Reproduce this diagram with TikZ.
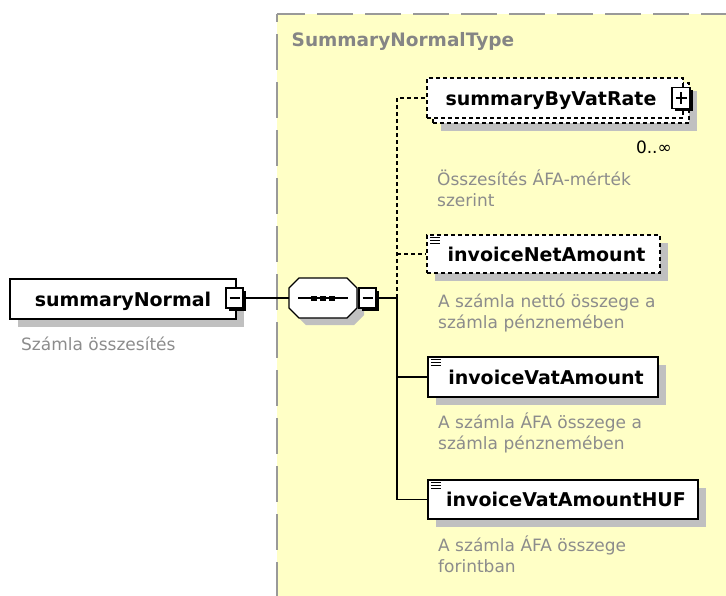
\documentclass[tikz,border=0pt]{standalone}
\usepackage{fontspec}
\setmainfont{DejaVu Sans}
\usetikzlibrary{shadows}
\definecolor{bgyellow}{HTML}{FFFFC6}
\definecolor{framegray}{HTML}{999999}
\definecolor{descgray}{HTML}{8C8C8C}
\definecolor{titlegray}{HTML}{858585}
\definecolor{shadowgray}{HTML}{C0C0C0}
\tikzset{
  elembase/.style={draw=black, line width=1.4pt, fill=white, inner sep=0pt,
    font=\fontsize{19}{23}\selectfont\bfseries, text height=19pt, text depth=4.75pt},
  elem/.style={elembase, drop shadow={shadow xshift=8pt, shadow yshift=-8pt, fill=shadowgray, opacity=1}},
  optdash/.style={dash pattern=on 4pt off 3pt},
  btn/.style={draw=black, line width=1.1pt, fill=white, inner sep=0pt,
    minimum width=17pt, minimum height=20pt,
    drop shadow={shadow xshift=2.5pt, shadow yshift=-2.5pt, fill=black, opacity=1}},
  conn/.style={draw=black, line width=1.3pt},
  optconn/.style={conn, dash pattern=on 4pt off 3pt},
  desc/.style={anchor=base west, align=left, inner sep=0pt, text=descgray,
    font=\fontsize{17}{21}\selectfont},
  icon/.style={line width=1.1pt, draw=black}
}
\begin{document}
\begin{tikzpicture}[x=1pt,y=-1pt]
\useasboundingbox (0,0) rectangle (726,595);
% type area
\fill[bgyellow] (277,14) rectangle (730,600);
\draw[framegray, line width=2pt, dash pattern=on 36pt off 12pt, dash phase=8pt] (277,14) -- (730,14);
\draw[framegray, line width=2pt, dash pattern=on 36pt off 12pt, dash phase=28pt] (277,14) -- (277,600);
\node[anchor=base west, inner sep=0pt, text=titlegray, font=\fontsize{18.5}{22}\selectfont\bfseries] (title) at (291.5,46.5) {SummaryNormalType};

% root element
\node[elem, minimum width=226pt, minimum height=40pt] (sn) at (123,299) {summaryNormal};
\node[btn] (snb) at (234.5,298) {};
\draw[line width=1.1pt] ([xshift=-5pt]snb.center) -- ([xshift=5pt]snb.center);
\node[desc] (snd) at (21,350) {Számla összesítés};

% sequence compositor (octagon)
\node[inner sep=0pt, minimum width=68pt, minimum height=40pt] (seq) at (323,298) {};
\fill[shadowgray] (296,295) -- (306,285) -- (354,285) -- (364,295) -- (364,315) -- (354,325) -- (306,325) -- (296,315) -- cycle;
\draw[line width=1.3pt, fill=white] (289,288) -- (299,278) -- (347,278) -- (357,288) -- (357,308) -- (347,318) -- (299,318) -- (289,308) -- cycle;
\draw[line width=1.3pt] ([xshift=-25pt]seq.center) -- ([xshift=25pt]seq.center);
\foreach \dx in {-9,0,9} \fill ([xshift=\dx pt]seq.center) +(-3,-2.5) rectangle +(3,2.5);
\node[btn] (seqb) at (367.5,298) {};
\draw[line width=1.1pt] ([xshift=-5pt]seqb.center) -- ([xshift=5pt]seqb.center);

\draw[conn] (snb.east) -- (seq.west);

% bus
\coordinate (j0) at (397,298);
\coordinate (j1) at (397,98);
\coordinate (j2) at (397,254);
\coordinate (j3) at (397,377);
\coordinate (j4) at (397,499.5);

% summaryByVatRate (repeated, optional)
\node[elem, optdash, minimum width=256pt, minimum height=40pt] (sbvback) at (561,103) {};
\node[elembase, optdash, minimum width=256pt, minimum height=40pt] (sbv) at (555,98) {summaryByVatRate\hspace*{8pt}};
\node[btn, minimum width=18pt, minimum height=21pt] (sbvb) at (681,98) {};
\draw[line width=1.1pt] ([xshift=-5.5pt]sbvb.center) -- ([xshift=5.5pt]sbvb.center);
\draw[line width=1.1pt] ([yshift=-6pt]sbvb.center) -- ([yshift=6pt]sbvb.center);
\node[anchor=base east, inner sep=0pt, font=\fontsize{17}{20}\selectfont] (mult) at (672,153) {0..∞};
\node[desc] (sbvd) at (437,206) {Összesítés ÁFA-mérték\\szerint};

% invoiceNetAmount (optional)
\node[elem, optdash, minimum width=233pt, minimum height=38pt] (ina) at (543.5,254) {\hspace*{6pt}invoiceNetAmount};
\draw[icon] ([shift={(4,3.5)}]ina.north west) -- ++(10,0);
\draw[icon] ([shift={(4,6.5)}]ina.north west) -- ++(10,0);
\draw[icon] ([shift={(4,9.5)}]ina.north west) -- ++(10,0);
\node[desc] (inad) at (438,328) {A számla nettó összege a\\számla pénznemében};

% invoiceVatAmount
\node[elem, minimum width=230pt, minimum height=40pt] (inv) at (543,377) {\hspace*{6pt}invoiceVatAmount};
\draw[icon] ([shift={(4,3.5)}]inv.north west) -- ++(10,0);
\draw[icon] ([shift={(4,6.5)}]inv.north west) -- ++(10,0);
\draw[icon] ([shift={(4,9.5)}]inv.north west) -- ++(10,0);
\node[desc] (invd) at (438,449) {A számla ÁFA összege a\\számla pénznemében};

% invoiceVatAmountHUF
\node[elem, minimum width=270pt, minimum height=39pt] (inh) at (563,499.5) {\hspace*{6pt}invoiceVatAmountHUF};
\draw[icon] ([shift={(4,3.5)}]inh.north west) -- ++(10,0);
\draw[icon] ([shift={(4,6.5)}]inh.north west) -- ++(10,0);
\draw[icon] ([shift={(4,9.5)}]inh.north west) -- ++(10,0);
\node[desc] (inhd) at (438,572) {A számla ÁFA összege\\forintban};

% connectors
\draw[conn] (seqb.east) -- (j0);
\draw[optconn] (j0) -- (j1) -- (sbv.west);
\draw[optconn] (j2) -- (ina.west);
\draw[conn] (j0) -- (j4);
\draw[conn] (j3) -- (inv.west);
\draw[conn] (j4) -- (inh.west);
\end{tikzpicture}
\end{document}
